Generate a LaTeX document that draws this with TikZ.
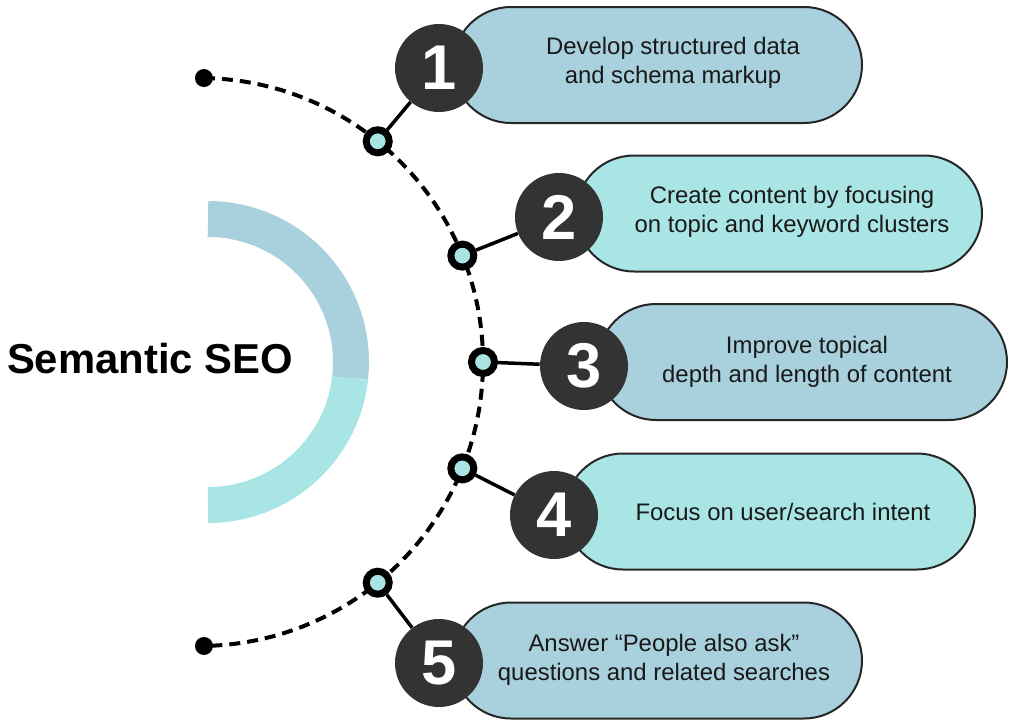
\documentclass[tikz,border=0pt]{standalone}
\usepackage{fontspec}
\setmainfont{Liberation Sans}
\usetikzlibrary{calc}
\usetikzlibrary{shapes.misc}
\newlength\px
\setlength\px{0.02cm}
\definecolor{bleuclair}{HTML}{A9D0DD}
\definecolor{cyanclair}{HTML}{A8E5E4}
\definecolor{anthracite}{HTML}{333333}
\tikzset{
 boite/.style={rounded rectangle, draw=black!85, line width=2\px, minimum height=116\px, inner sep=0pt},
 texte/.style={align=center, text=black!90, font=\fontsize{13.6}{16.4}\selectfont},
 numero/.style={circle, fill=anthracite, minimum size=88\px, inner sep=0pt, text=white, font=\fontsize{36}{36}\selectfont\bfseries},
 jalon/.style={circle, draw=black, fill=cyanclair, line width=7\px, minimum size=23\px, inner sep=0pt},
 bout/.style={circle, fill=black, minimum size=18\px, inner sep=0pt},
 pointille/.style={line width=4\px, dash pattern=on 11\px off 7\px},
 lien/.style={line width=3.5\px}
}
\begin{document}
\begin{tikzpicture}[x=0.02cm, y=-0.02cm]
 \useasboundingbox (0,0) rectangle (1014,727);
 %anneau (gauche)
 \draw[bleuclair, line width=36\px] (208,362) ++(-90:143) arc[start angle=-90, end angle=6.5, radius=143];
 \draw[cyanclair, line width=36\px] (208,362) ++(6.5:143) arc[start angle=6.5, end angle=90, radius=143];
 \node[font=\fontsize{23.8}{24}\selectfont\bfseries] (titre) at (150,359) {Semantic SEO};
 %arc pointillé
 \coordinate (c) at (199,362);
 \draw[pointille] ($(c)+(-89:284)$) arc[start angle=-89, end angle=89, radius=284];
 \node[bout] (d1) at ($(c)+(-89:284)$) {};
 \node[bout] (d2) at ($(c)+(89:284)$) {};
 %boites
 \node[boite, fill=bleuclair, minimum width=409\px] (b1) at (657.5,65) {};
 \node[boite, fill=cyanclair, minimum width=406\px] (b2) at (779,213.5) {};
 \node[boite, fill=bleuclair, minimum width=409\px] (b3) at (802.5,362) {};
 \node[boite, fill=cyanclair, minimum width=410\px] (b4) at (770,511.5) {};
 \node[boite, fill=bleuclair, minimum width=409\px] (b5) at (657.5,660.5) {};
 %textes
 \node[texte] (t1) at (673,63) {Develop structured data\\and schema markup};
 \node[texte] (t2) at (792,212) {Create content by focusing\\on topic and keyword clusters};
 \node[texte] (t3) at (807,362) {Improve topical\\depth and length of content};
 \node[texte] (t4) at (783,512) {Focus on user/search intent};
 \node[texte] (t5) at (664,660) {Answer “People also ask”\\questions and related searches};
 %jalons sur l'arc
 \foreach \a/\i in {-51/1,-22/2,0/3,22/4,51/5}
  \node[jalon] (p\i) at ($(c)+(\a:284)$) {};
 %numeros
 \node[numero] (n1) at (439,68) {1};
 \node[numero] (n2) at (559,217) {2};
 \node[numero] (n3) at (584,366) {3};
 \node[numero] (n4) at (554,515) {4};
 \node[numero] (n5) at (439,663) {5};
 %liens
 \foreach \i in {1,...,5}
  \draw[lien] (p\i) -- (n\i);
\end{tikzpicture}
\end{document}
